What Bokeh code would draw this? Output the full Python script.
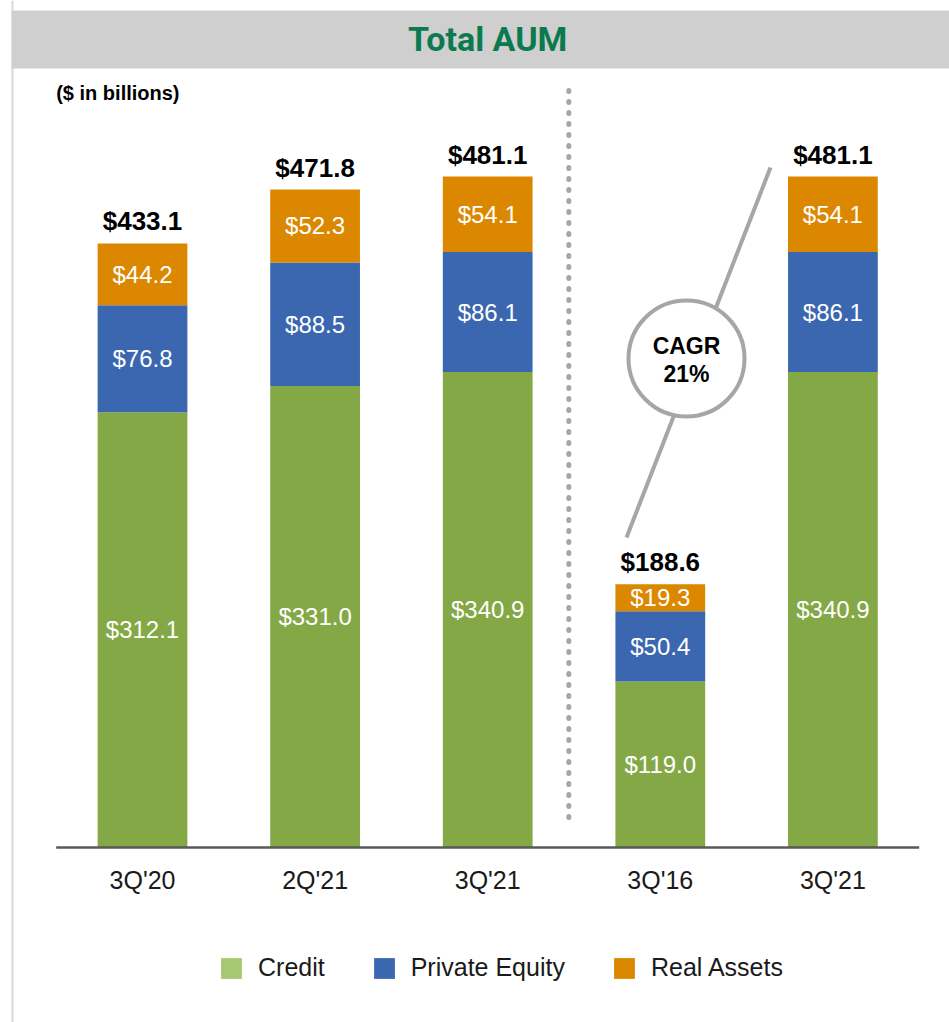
import numpy as np
from bokeh.plotting import figure
from bokeh.models import (ColumnDataSource, FixedTicker, Legend, LegendItem,
                          BoxAnnotation, Span, Label)
from bokeh.core.properties import value
from bokeh.embed import file_html
from bokeh.resources import INLINE

# ---------------- data ----------------
periods = ["3Q'20", "2Q'21", "3Q'21", "3Q'16", "3Q'21"]
credit = [312.1, 331.0, 340.9, 119.0, 340.9]
private_equity = [76.8, 88.5, 86.1, 50.4, 86.1]
real_assets = [44.2, 52.3, 54.1, 19.3, 54.1]
totals = [433.1, 471.8, 481.1, 188.6, 481.1]
series_names = ["Credit", "Private Equity", "Real Assets"]
title_text = "Total AUM"
unit_text = "($ in billions)"
cagr_lines = ["CAGR", "21%"]

# ---------------- styling / layout ----------------
BAR_COLORS = ["#83A845", "#3A67AF", "#DB8800"]
SWATCH_COLORS = ["#A6C870", "#3A67AF", "#DB8800"]
FONT = "Liberation Sans"
PX_X = 172.6          # pixels per category
PX_Y = 1.3946         # pixels per $bn
FRAME_W = 949
FRAME_H = 1022
BASE_Y = 847          # baseline position from top of figure
FIRST_CENTER = 142    # first bar centre, px from left of frame

x_start = -FIRST_CENTER / PX_X
x_end = x_start + FRAME_W / PX_X
y_end = BASE_Y / PX_Y
y_start = -(FRAME_H - BASE_Y) / PX_Y


def dx(px):
    return x_start + px / PX_X


def dy(py):
    return (BASE_Y - py) / PX_Y


n = len(periods)
xs = list(range(n))
c = np.array(credit)
pe = np.array(private_equity)
ra = np.array(real_assets)

source = ColumnDataSource(dict(x=xs, credit=credit, pe=private_equity, ra=real_assets))

p = figure(frame_width=FRAME_W, frame_height=FRAME_H,
           x_range=(x_start, x_end), y_range=(y_start, y_end),
           output_backend="svg", toolbar_location=None,
           y_axis_location=None, min_border_left=0, min_border_right=0,
           min_border_top=0, min_border_bottom=0, outline_line_color=None,
           background_fill_color="white", border_fill_color="white")
p.xgrid.visible = False
p.ygrid.visible = False

# left faint border and title band
p.add_layout(Span(location=dx(12), dimension="height", line_color="#D9D9D9", line_width=2))
p.add_layout(BoxAnnotation(left=dx(11), top=dy(10), bottom=dy(68),
                           fill_color="#CFCFCF", fill_alpha=1.0, line_color=None))
p.add_layout(Label(x=(n - 1) / 2, y=dy(38), text=title_text, text_align="center",
                   text_baseline="middle", text_font="Roboto", text_font_style="bold",
                   text_font_size="34px", text_color="#0B7A4E"))
p.add_layout(Label(x=-0.5, y=dy(92), text=unit_text, text_align="left",
                   text_baseline="middle", text_font=FONT, text_font_style="bold",
                   text_font_size="20px", text_color="black"))

# stacked bars
p.vbar_stack(["credit", "pe", "ra"], x="x", width=0.52, color=BAR_COLORS,
             line_color=None, source=source)

# baseline
p.segment(x0=[-0.5], y0=[0], x1=[n - 0.5], y1=[0], line_color="#595959", line_width=2.5)

# segment labels
mids_y = np.concatenate([c / 2, c + pe / 2, c + pe + ra / 2])
mids_x = xs * 3
mids_t = ["$%.1f" % v for v in list(c) + list(pe) + list(ra)]
p.text(x=mids_x, y=list(mids_y), text=mids_t, text_align="center", text_baseline="middle",
       text_color="white", text_font=value(FONT), text_font_size="24px")

# total labels
p.text(x=xs, y=totals, text=["$%.1f" % v for v in totals], y_offset=-22,
       text_align="center", text_baseline="middle", text_color="black",
       text_font=value(FONT), text_font_style="bold", text_font_size="26px")

# dotted divider between the two groups
split = 3
p.line(x=[split - 0.53, split - 0.53], y=[dy(90), dy(825)], line_color="#A6A6A6",
       line_width=5, line_dash="1 10", line_cap="round")

# CAGR connector and bubble
p.line(x=[dx(626), dx(770)], y=[dy(537), dy(167)], line_color="#A6A6A6", line_width=4)
cx, cy = dx(686), dy(358)
p.scatter(x=[cx], y=[cy], size=116, marker="circle", fill_color="white",
          line_color="#A6A6A6", line_width=4)
for txt, sy in zip(cagr_lines, [345, 373]):
    p.add_layout(Label(x=cx, y=dy(sy), text=txt, text_align="center", text_baseline="middle",
                       text_font=FONT, text_font_style="bold", text_font_size="23px",
                       text_color="black"))

# x axis, drawn at the zero baseline
ax = p.xaxis[0]
ax.fixed_location = 0
ax.ticker = FixedTicker(ticks=xs)
ax.major_label_overrides = {i: lab for i, lab in enumerate(periods)}
ax.major_label_text_font = FONT
ax.major_label_text_font_size = "25px"
ax.major_label_text_color = "#1a1a1a"
ax.major_label_standoff = 18
ax.major_tick_in = 0
ax.major_tick_out = 0
ax.major_tick_line_color = None
ax.minor_tick_line_color = None
ax.axis_line_color = None

# legend with (non-drawing) proxy swatches, inside the frame below the axis labels
items = []
for name, col in zip(series_names, SWATCH_COLORS):
    r = p.vbar(x=[np.nan], top=[np.nan], width=0.5, fill_color=col, line_color=None)
    items.append(LegendItem(label=name, renderers=[r]))
legend = Legend(items=items, orientation="horizontal", location=(218, FRAME_H - 982),
                glyph_width=26, glyph_height=26, label_standoff=14, spacing=46,
                padding=6, margin=0, border_line_color=None, background_fill_alpha=0,
                label_text_font=FONT, label_text_font_size="25px",
                label_text_color="#1a1a1a")
p.add_layout(legend, "center")

open("out.html", "w").write(file_html(p, INLINE))
